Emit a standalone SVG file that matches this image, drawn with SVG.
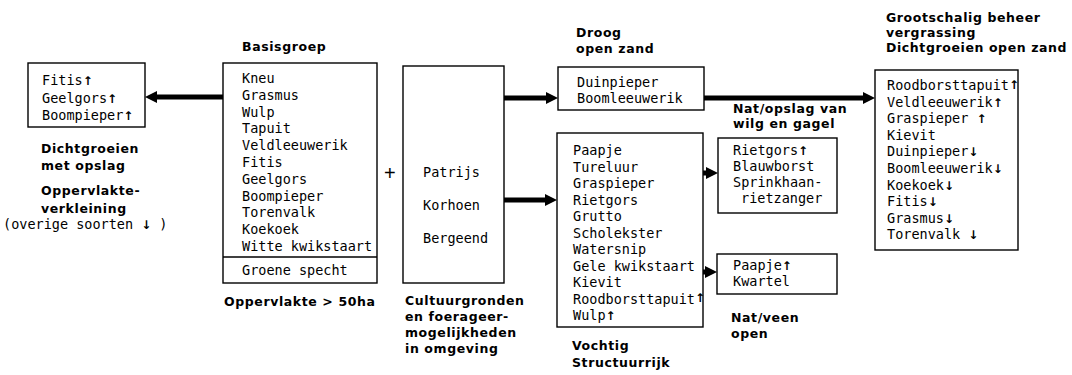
<svg xmlns="http://www.w3.org/2000/svg" width="1072" height="375" viewBox="0 0 1072 375">
<style>
.box{fill:none;stroke:#000;stroke-width:1.4}
.m{font-family:"DejaVu Sans Mono","Liberation Mono",monospace;font-size:13.5px;fill:#000}
.l{font-family:"DejaVu Sans","Liberation Sans",sans-serif;font-size:12.5px;font-weight:bold;letter-spacing:0.6px;fill:#000}
.ar{font-family:"DejaVu Sans",sans-serif;font-size:12px;font-weight:bold}
.c{stroke:#000;stroke-width:5;fill:none}
</style>
<defs>
<marker id="ah" markerUnits="userSpaceOnUse" markerWidth="12" markerHeight="12" viewBox="0 0 12 12" refX="0" refY="6" orient="auto">
<path d="M0,0 L12,6 L0,12 z" fill="#000"/>
</marker>
</defs>
<rect width="1072" height="375" fill="#fff"/>

<g id="connectors">
<line class="c" x1="223" y1="97" x2="157" y2="97" marker-end="url(#ah)"/>
<line class="c" x1="504" y1="98" x2="546" y2="98" marker-end="url(#ah)"/>
<line class="c" x1="504" y1="200" x2="545" y2="200" marker-end="url(#ah)"/>
<line class="c" x1="704" y1="98" x2="863" y2="98" marker-end="url(#ah)"/>
<line class="c" x1="703" y1="173" x2="706" y2="173" marker-end="url(#ah)"/>
<line class="c" x1="703" y1="272" x2="705" y2="272" marker-end="url(#ah)"/>
</g>

<g id="node-left">
<rect class="box" x="28" y="63" width="117" height="64"/>
<text class="m" x="42" y="85">Fitis<tspan class="ar">↑</tspan></text>
<text class="m" x="42" y="103">Geelgors<tspan class="ar">↑</tspan></text>
<text class="m" x="42" y="120">Boompieper<tspan class="ar">↑</tspan></text>
<text class="l" x="41" y="153">Dichtgroeien</text>
<text class="l" x="41" y="170">met opslag</text>
<text class="l" x="41" y="195">Oppervlakte-</text>
<text class="l" x="41" y="213">verkleining</text>
<text class="m" x="3" y="229">(overige soorten <tspan class="ar">↓</tspan> )</text>
</g>

<g id="node-basisgroep">
<text class="l" x="242" y="51">Basisgroep</text>
<rect class="box" x="223" y="63" width="154" height="220"/>
<line class="box" x1="223" y1="257" x2="377" y2="257"/>
<text class="m" x="242" y="83">Kneu</text>
<text class="m" x="242" y="100">Grasmus</text>
<text class="m" x="242" y="117">Wulp</text>
<text class="m" x="242" y="133">Tapuit</text>
<text class="m" x="242" y="150">Veldleeuwerik</text>
<text class="m" x="242" y="167">Fitis</text>
<text class="m" x="242" y="184">Geelgors</text>
<text class="m" x="242" y="201">Boompieper</text>
<text class="m" x="242" y="217">Torenvalk</text>
<text class="m" x="242" y="234">Koekoek</text>
<text class="m" x="242" y="251">Witte kwikstaart</text>
<text class="m" x="242" y="275">Groene specht</text>
<text class="l" x="224" y="306">Oppervlakte &gt; 50ha</text>
</g>

<text x="384" y="180" font-family="Liberation Sans, sans-serif" font-size="20" fill="#000">+</text>

<g id="node-cultuur">
<rect class="box" x="403" y="66" width="101" height="217"/>
<text class="m" x="423" y="177">Patrijs</text>
<text class="m" x="423" y="210">Korhoen</text>
<text class="m" x="423" y="243">Bergeend</text>
<text class="l" x="405" y="305">Cultuurgronden</text>
<text class="l" x="405" y="321">en foerageer-</text>
<text class="l" x="405" y="337">mogelijkheden</text>
<text class="l" x="405" y="353">in omgeving</text>
</g>

<g id="node-droog">
<text class="l" x="576" y="37">Droog</text>
<text class="l" x="576" y="53">open zand</text>
<rect class="box" x="558" y="67" width="146" height="43"/>
<text class="m" x="577" y="87">Duinpieper</text>
<text class="m" x="577" y="103">Boomleeuwerik</text>
</g>

<g id="node-vochtig">
<rect class="box" x="557" y="133" width="146" height="194"/>
<text class="m" x="573" y="155">Paapje</text>
<text class="m" x="573" y="171.5">Tureluur</text>
<text class="m" x="573" y="188">Graspieper</text>
<text class="m" x="573" y="204.5">Rietgors</text>
<text class="m" x="573" y="221">Grutto</text>
<text class="m" x="573" y="237.5">Scholekster</text>
<text class="m" x="573" y="254">Watersnip</text>
<text class="m" x="573" y="270.5">Gele kwikstaart</text>
<text class="m" x="573" y="287">Kievit</text>
<text class="m" x="573" y="303.5">Roodborsttapuit<tspan class="ar" dy="-2">↑</tspan></text>
<text class="m" x="573" y="320">Wulp<tspan class="ar">↑</tspan></text>
<text class="l" x="572" y="350">Vochtig</text>
<text class="l" x="572" y="367">Structuurrijk</text>
</g>

<g id="node-natopslag">
<text class="l" x="733" y="113">Nat/opslag van</text>
<text class="l" x="733" y="128">wilg en gagel</text>
<rect class="box" x="718" y="138" width="119" height="75"/>
<text class="m" x="733" y="155">Rietgors<tspan class="ar">↑</tspan></text>
<text class="m" x="733" y="171">Blauwborst</text>
<text class="m" x="733" y="187">Sprinkhaan-</text>
<text class="m" x="741" y="203">rietzanger</text>
</g>

<g id="node-natveen">
<rect class="box" x="717" y="254" width="120" height="40"/>
<text class="m" x="733" y="270">Paapje<tspan class="ar">↑</tspan></text>
<text class="m" x="733" y="286">Kwartel</text>
<text class="l" x="731" y="322">Nat/veen</text>
<text class="l" x="731" y="338">open</text>
</g>

<g id="node-right">
<text class="l" x="886" y="22">Grootschalig beheer</text>
<text class="l" x="886" y="37">vergrassing</text>
<text class="l" x="886" y="52">Dichtgroeien open zand</text>
<rect class="box" x="875" y="70" width="143" height="180"/>
<text class="m" x="887" y="90">Roodborsttapuit<tspan class="ar" dy="-1">↑</tspan></text>
<text class="m" x="887" y="106.6">Veldleeuwerik<tspan class="ar">↑</tspan></text>
<text class="m" x="887" y="123.2">Graspieper <tspan class="ar">↑</tspan></text>
<text class="m" x="887" y="139.8">Kievit</text>
<text class="m" x="887" y="156.4">Duinpieper<tspan class="ar">↓</tspan></text>
<text class="m" x="887" y="173">Boomleeuwerik<tspan class="ar">↓</tspan></text>
<text class="m" x="887" y="189.6">Koekoek<tspan class="ar">↓</tspan></text>
<text class="m" x="887" y="206.2">Fitis<tspan class="ar">↓</tspan></text>
<text class="m" x="887" y="222.8">Grasmus<tspan class="ar">↓</tspan></text>
<text class="m" x="887" y="239.4">Torenvalk <tspan class="ar">↓</tspan></text>
</g>
</svg>
